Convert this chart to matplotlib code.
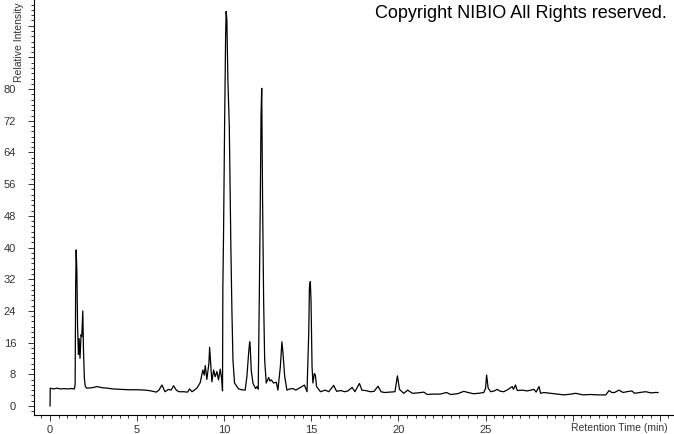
import matplotlib
matplotlib.use("Agg")
import matplotlib.pyplot as plt
from matplotlib.ticker import MultipleLocator

plt.rcParams['font.family'] = ['Liberation Sans', 'DejaVu Sans']

# chromatogram: retention time (min) / relative intensity
rt = [0.0, 0.01, 0.2, 0.4, 0.6, 0.8, 1.0, 1.2, 1.4, 1.44, 1.47, 1.50, 1.54, 1.58,
      1.63, 1.67, 1.72, 1.78, 1.82, 1.88, 1.92, 1.97, 2.02, 2.1, 2.4, 2.7, 3.0,
      3.3, 3.6, 4.0, 4.5, 5.0, 5.5, 5.8, 6.1, 6.25, 6.42, 6.6, 6.8, 6.95, 7.09,
      7.25, 7.4, 7.66, 7.9, 8.0, 8.15, 8.43, 8.62, 8.77, 8.85, 8.91, 9.0, 9.12,
      9.16, 9.23, 9.29, 9.39, 9.48, 9.58, 9.67, 9.77, 9.86, 9.90, 9.92, 9.96,
      10.02, 10.08, 10.11, 10.15, 10.21, 10.29, 10.38, 10.44, 10.50, 10.59,
      10.82, 11.0, 11.2, 11.3, 11.40, 11.46, 11.49, 11.55, 11.65, 11.8, 11.88,
      11.95, 12.01, 12.07, 12.11, 12.15, 12.2, 12.26, 12.32, 12.41, 12.48,
      12.55, 12.62, 12.7, 12.83, 12.99, 13.08, 13.22, 13.31, 13.37, 13.47,
      13.6, 13.75, 13.95, 14.1, 14.3, 14.46, 14.6, 14.75, 14.85, 14.89, 14.94,
      14.98, 15.04, 15.09, 15.17, 15.23, 15.3, 15.52, 15.8, 16.0, 16.28, 16.45,
      16.7, 16.9, 17.1, 17.34, 17.5, 17.76, 17.9, 18.1, 18.4, 18.6, 18.83, 19.0,
      19.2, 19.5, 19.8, 19.94, 20.06, 20.3, 20.53, 20.8, 21.1, 21.46, 21.65,
      22.0, 22.4, 22.76, 23.0, 23.4, 23.75, 24.0, 24.3, 24.6, 24.9, 25.0, 25.06,
      25.15, 25.29, 25.5, 25.67, 25.85, 26.05, 26.3, 26.53, 26.6, 26.72, 26.82,
      27.1, 27.4, 27.6, 27.78, 27.9, 28.07, 28.16, 28.35, 28.55, 29.0, 29.5,
      29.9, 30.17, 30.6, 31.0, 31.5, 31.9, 32.09, 32.25, 32.4, 32.66, 32.9,
      33.1, 33.4, 33.55, 33.7, 34.0, 34.2, 34.5, 34.7, 34.9]
intensity = [0.0, 4.5, 4.3, 4.5, 4.3, 4.4, 4.3, 4.4, 4.3, 5.5, 30, 39.4, 34, 20,
             13, 17, 12, 18, 17.5, 24, 14, 7, 5.0, 4.5, 4.6, 4.9, 4.6,
             4.5, 4.3, 4.2, 4.1, 4.1, 4.0, 3.8, 3.5, 4.0, 5.3, 3.6, 4.2, 4.0, 5.1,
             4.0, 3.6, 3.6, 3.5, 4.3, 3.6, 4.5, 5.9, 9.1, 7.8, 10.2, 6.7, 10.8,
             14.8, 9.9, 6.1, 9.1, 7.4, 8.7, 6.6, 9.3, 6.6, 3.8, 30, 43.6,
             71, 94, 99.6, 97.5, 82, 70.5, 40, 24, 11.6, 5.8,
             4.3, 4.1, 4.0, 7.4, 13.4, 16.2, 15, 9, 5.7, 4.4, 4.9,
             4.2, 26.8, 52, 73, 80.2, 52, 26.8, 11.6, 5.8, 6.5,
             7.2, 6.3, 6.6, 5.8, 6.0, 4.0, 9.9, 16.2, 13.4, 7.4,
             4.0, 4.3, 4.4, 4.0, 4.5, 4.9, 5.3, 3.6, 18.4, 30, 31.4,
             26.8, 9.9, 5.8, 8.2, 7.8, 4.9, 3.6, 4.0, 3.6, 5.2, 3.7,
             3.9, 3.6, 3.8, 4.7, 3.6, 5.7, 4.0, 3.9, 3.6, 3.7, 5.0, 3.6,
             3.4, 3.5, 3.6, 7.6, 4.2, 3.2, 4.0, 3.2, 3.3, 3.5, 2.9,
             3.0, 3.0, 3.4, 2.9, 3.1, 3.7, 3.4, 3.1, 3.2, 3.4, 4.5, 7.8,
             4.5, 3.6, 3.8, 4.2, 3.7, 3.6, 4.2, 4.9, 4.2, 5.3, 3.9,
             4.0, 3.8, 4.0, 4.2, 3.5, 4.9, 3.2, 3.4, 3.3, 3.1, 2.8,
             3.0, 3.2, 2.8, 2.9, 2.8, 2.8, 3.9, 3.4, 3.4, 4.0, 3.4,
             3.6, 3.8, 3.2, 3.3, 3.5, 3.6, 3.3, 3.4, 3.4]

xticks = [0, 5, 10, 15, 20, 25, 30, 35]
xticklabels = ['0', '5', '10', '15', '20', '25', '', '']
yticks = [0, 8, 16, 24, 32, 40, 48, 56, 64, 72, 80, 88, 96]
yticklabels = ['0', '8', '16', '24', '32', '40', '48', '56', '64', '72', '80', '', '']

fig = plt.figure(figsize=(6.74, 4.34), dpi=100)
ax = fig.add_axes([33.5 / 674, 19.5 / 434, 639.5 / 674, 414.5 / 434])

ax.plot(rt, intensity, color='black', lw=0.9)

ax.set_xlim(-0.95, 35.76)
ax.set_ylim(-2.15, 102.5)
ax.spines['top'].set_visible(False)
ax.spines['right'].set_visible(False)
ax.spines['left'].set_linewidth(0.8)
ax.spines['bottom'].set_linewidth(0.8)

ax.set_xticks(xticks)
ax.set_xticklabels(xticklabels)
ax.set_yticks(yticks)
ax.set_yticklabels(yticklabels)
ax.xaxis.set_minor_locator(MultipleLocator(0.5))
ax.yaxis.set_minor_locator(MultipleLocator(8 / 6))
ax.tick_params(which='major', length=4.5, width=0.7, labelsize=8, colors='#333333', pad=3)
ax.tick_params(axis='y', which='major', pad=8)
ax.tick_params(which='minor', length=2.5, width=0.7, colors='#333333')

fig.text(19 / 674, 1 - 82 / 434, 'Relative Intensity', rotation=90, ha='center',
         va='bottom', fontsize=7.5, color='#333333')
fig.text(668 / 674, 1 - 428 / 434, 'Retention Time (min)', ha='right',
         va='center', fontsize=7.5, color='#333333')
fig.text(667 / 674, 1 - 5 / 434, 'Copyright NIBIO All Rights reserved.', ha='right',
         va='top', fontsize=13, color='black')

fig.savefig('out.png', dpi=100)
